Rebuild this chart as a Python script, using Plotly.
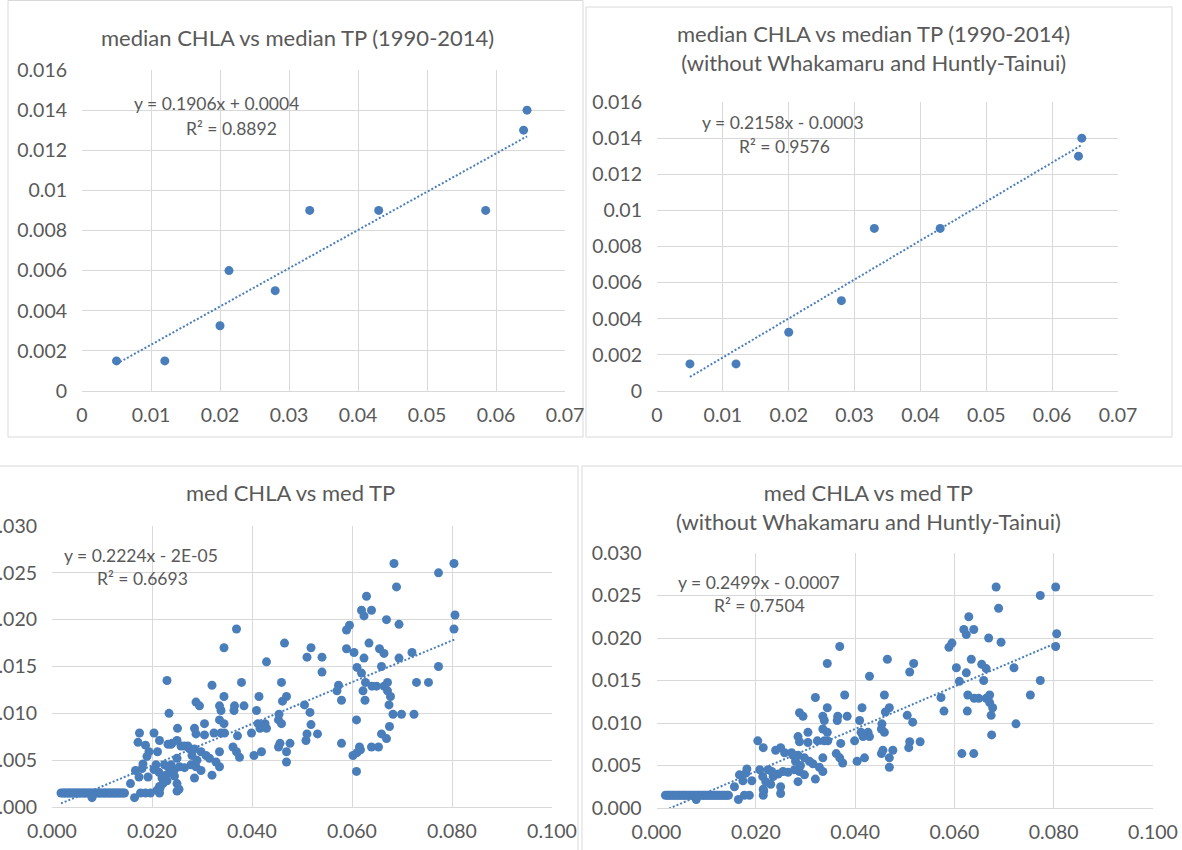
import plotly.graph_objects as go

# ---------------- data ----------------
# site medians (1990-2014)
site_tp = [0.005, 0.012, 0.020, 0.0213, 0.028, 0.033, 0.043, 0.0585, 0.064, 0.0645]
site_chla = [0.0015, 0.0015, 0.00325, 0.006, 0.005, 0.009, 0.009, 0.009, 0.013, 0.014]
site_excluded = [False, False, False, True, False, False, False, True, False, False]

# annual medians, sites kept in the "without" charts
kept_tp = [0.0018, 0.0022, 0.0025, 0.0028, 0.0032, 0.0035, 0.0038, 0.0042, 0.0045, 0.0048,
           0.0052, 0.0055, 0.0058, 0.0062, 0.0065, 0.0068, 0.0072, 0.0075, 0.0078, 0.0082,
           0.0085, 0.0088, 0.0092, 0.0095, 0.0098, 0.0102, 0.0105, 0.0108, 0.0112, 0.0115,
           0.0118, 0.0122, 0.0125, 0.0128, 0.0132, 0.0135, 0.0138, 0.0142, 0.0145,
           0.008, 0.0165, 0.0177, 0.0187, 0.0215, 0.0216,
           0.0157, 0.0167, 0.0180, 0.0174, 0.0192, 0.0182,
           0.0204, 0.0215, 0.0240, 0.0250, 0.0258,
           0.0214, 0.0220, 0.0235, 0.0230, 0.0215, 0.0208, 0.0225, 0.0232,
           0.0250, 0.0250, 0.0245, 0.0255, 0.0265, 0.0278, 0.0288, 0.0298, 0.0285,
           0.0275, 0.0285, 0.0298, 0.0308, 0.0315, 0.0285, 0.0288, 0.0272, 0.0280, 0.0290,
           0.0320, 0.0379, 0.0459, 0.0288, 0.0295, 0.0344, 0.0335, 0.0338, 0.0365, 0.0364,
           0.0384, 0.0414, 0.0409, 0.0461, 0.0469, 0.0454, 0.0335, 0.0344, 0.0305, 0.0305,
           0.0324, 0.0338, 0.0345, 0.0371, 0.0399, 0.0412, 0.0426, 0.0429, 0.0416, 0.0453,
           0.0459, 0.0335, 0.0362, 0.0369, 0.0375, 0.0404, 0.0419, 0.0453, 0.0456, 0.0469,
           0.0469, 0.0476, 0.0328, 0.0335, 0.0320,
           0.0369, 0.0344, 0.0465, 0.0429, 0.0510, 0.0518, 0.0684, 0.0804, 0.0773, 0.0689,
           0.0629, 0.0619, 0.0624, 0.0639, 0.0669, 0.0694, 0.0595, 0.0589, 0.0806, 0.0804,
           0.0604, 0.0624, 0.0634, 0.0655, 0.0664, 0.0720, 0.0659, 0.0610, 0.0773,
           0.0505, 0.0516, 0.0510, 0.0531, 0.0508, 0.0573, 0.0579, 0.0627, 0.0626, 0.0640,
           0.0649, 0.0664, 0.0671, 0.0671, 0.0677, 0.0753, 0.0674, 0.0724, 0.0675, 0.0615,
           0.0639]
kept_chla = [0.0015] * 39 + [
           0.0010, 0.0010, 0.0015, 0.0015, 0.0015, 0.0020,
           0.0025, 0.0039, 0.0041, 0.0032, 0.0032, 0.0046,
           0.0079, 0.0071, 0.0068, 0.0071, 0.0065,
           0.0037, 0.0031, 0.0037, 0.0028, 0.0022, 0.0045, 0.0045, 0.0043,
           0.0025, 0.0017, 0.0040, 0.0043, 0.0042, 0.0045, 0.0043, 0.0039, 0.0031,
           0.0062, 0.0062, 0.0059, 0.0055, 0.0052, 0.0084, 0.0078, 0.0065, 0.0055, 0.0050,
           0.0130, 0.0133, 0.0133, 0.0112, 0.0108, 0.0118, 0.0108, 0.0103, 0.0108, 0.0103,
           0.0108, 0.0118, 0.0103, 0.0113, 0.0118, 0.0099, 0.0093, 0.0089, 0.0089, 0.0077,
           0.0079, 0.0079, 0.0079, 0.0076, 0.0079, 0.0089, 0.0089, 0.0084, 0.0084, 0.0093,
           0.0089, 0.0059, 0.0064, 0.0059, 0.0053, 0.0055, 0.0059, 0.0064, 0.0068, 0.0059,
           0.0048, 0.0068, 0.0048, 0.0043, 0.0034,
           0.0190, 0.0170, 0.0175, 0.0155, 0.0160, 0.0170, 0.0260, 0.0260, 0.0250, 0.0235,
           0.0225, 0.0210, 0.0204, 0.0210, 0.0200, 0.0195, 0.0194, 0.0189, 0.0205, 0.0190,
           0.0165, 0.0159, 0.0175, 0.0169, 0.0164, 0.0165, 0.0150, 0.0149, 0.0150,
           0.0109, 0.0101, 0.0078, 0.0078, 0.0071, 0.0130, 0.0114, 0.0133, 0.0114, 0.0129,
           0.0129, 0.0129, 0.0133, 0.0124, 0.0118, 0.0133, 0.0109, 0.0099, 0.0086, 0.0064,
           0.0064]

# annual medians of Whakamaru and Huntly-Tainui (only in the "all sites" chart)
excl_tp = [0.0175, 0.0172, 0.0187, 0.0194, 0.0190, 0.0211, 0.0232, 0.0251, 0.0234, 0.0230,
           0.0250, 0.0204, 0.0222, 0.0228, 0.0265, 0.0238, 0.0210, 0.0245, 0.0254, 0.0197,
           0.0238,
           0.0518, 0.0570, 0.0729, 0.0682, 0.0699, 0.0609, 0.0659, 0.0669, 0.0579, 0.0617,
           0.0610, 0.0602, 0.0653, 0.0609, 0.0540, 0.0540, 0.0694, 0.0589, 0.0619, 0.0622]
excl_chla = [0.0079, 0.0069, 0.0066, 0.0059, 0.0054, 0.0059, 0.0067, 0.0084, 0.0100, 0.0135,
             0.0052, 0.0040, 0.0025, 0.0034, 0.0065, 0.0045, 0.0018, 0.0033, 0.0019, 0.0015,
             0.0067,
             0.0088, 0.0124, 0.0133, 0.0099, 0.0099, 0.0093, 0.0078, 0.0073, 0.0068, 0.0061,
             0.0058, 0.0055, 0.0064, 0.0038, 0.0160, 0.0144, 0.0159, 0.0169, 0.0143, 0.0124]

# Excel linear trendlines: slope, intercept, labels
trend_slope = [0.1906, 0.2158, 0.2224, 0.2499]
trend_intercept = [0.0004, -0.0003, -0.00002, -0.0007]
trend_eq = ["y = 0.1906x + 0.0004", "y = 0.2158x - 0.0003", "y = 0.2224x - 2E-05", "y = 0.2499x - 0.0007"]
trend_r2 = ["R² = 0.8892", "R² = 0.9576", "R² = 0.6693", "R² = 0.7504"]

titles = ["median CHLA vs median TP (1990-2014)",
          "median CHLA vs median TP (1990-2014)<br>(without Whakamaru and Huntly-Tainui)",
          "med CHLA vs med TP",
          "med CHLA vs med TP<br>(without Whakamaru and Huntly-Tainui)"]

top_x_ticks = [0, 0.01, 0.02, 0.03, 0.04, 0.05, 0.06, 0.07]
top_x_text = ["0", "0.01", "0.02", "0.03", "0.04", "0.05", "0.06", "0.07"]
top_y_ticks = [0, 0.002, 0.004, 0.006, 0.008, 0.01, 0.012, 0.014, 0.016]
top_y_text = ["0", "0.002", "0.004", "0.006", "0.008", "0.01", "0.012", "0.014", "0.016"]
bot_x_ticks = [0, 0.02, 0.04, 0.06, 0.08, 0.1]
bot_x_text = ["0.000", "0.020", "0.040", "0.060", "0.080", "0.100"]
bot_y_ticks = [0, 0.005, 0.01, 0.015, 0.02, 0.025, 0.03]
bot_y_text = ["0.000", "0.005", "0.010", "0.015", "0.020", "0.025", "0.030"]

# ---------------- layout helpers ----------------
W, H = 1182, 850
FONT = "Lato"
TXT = "#595959"
GRID = "#D9D9D9"
BLUE = "#4A7EBB"
TICK_SIZE = 19.5
TITLE_SIZE = 22
EQ_SIZE = 17.5


def fx(px):
    return px / W


def fy(py):
    return 1 - py / H


panels = [
    dict(plot=(82, 565, 70, 391), xr=[0, 0.07], yr=[0, 0.016],
         xt=(top_x_ticks, top_x_text), yt=(top_y_ticks, top_y_text),
         border=(8, 583, 0.5, 437), title=(297, 38), eq=(216, 104), r2=(232, 128)),
    dict(plot=(657, 1118, 102, 391), xr=[0, 0.07], yr=[0, 0.016],
         xt=(top_x_ticks, top_x_text), yt=(top_y_ticks, top_y_text),
         border=(586, 1172, 7, 437), title=(873, 48), eq=(783, 122), r2=(784, 146)),
    dict(plot=(52, 552, 526, 807), xr=[0, 0.1], yr=[0, 0.03],
         xt=(bot_x_ticks, bot_x_text), yt=(bot_y_ticks, bot_y_text),
         border=(-10, 578, 466, 870), title=(290, 493), eq=(141, 555), r2=(142, 578)),
    dict(plot=(656.5, 1153, 553, 808), xr=[0, 0.1], yr=[0, 0.03],
         xt=(bot_x_ticks, bot_x_text), yt=(bot_y_ticks, bot_y_text),
         border=(582, 1200, 466, 870), title=(868, 507), eq=(759, 582), r2=(759, 605)),
]

top_all_x = site_tp
top_all_y = site_chla
top_sub_x = [t for t, e in zip(site_tp, site_excluded) if not e]
top_sub_y = [c for c, e in zip(site_chla, site_excluded) if not e]
bot_all_x = kept_tp + excl_tp
bot_all_y = kept_chla + excl_chla
point_sets = [(top_all_x, top_all_y), (top_sub_x, top_sub_y), (bot_all_x, bot_all_y), (kept_tp, kept_chla)]

fig = go.Figure()
layout = dict(
    template="none",
    width=W, height=H, margin=dict(l=0, r=0, t=0, b=0, autoexpand=False),
    paper_bgcolor="white", plot_bgcolor="white", showlegend=False,
    font=dict(family=FONT, color=TXT),
)
shapes = []
annotations = []

for i, (p, (xs, ys)) in enumerate(zip(panels, point_sets)):
    n = "" if i == 0 else str(i + 1)
    xa, ya = "x" + n, "y" + n
    l, r, t, b = p["plot"]
    layout["xaxis" + n] = dict(
        domain=[fx(l), fx(r)], range=p["xr"], anchor=ya, automargin=False,
        tickvals=p["xt"][0], ticktext=p["xt"][1],
        tickfont=dict(size=TICK_SIZE, color=TXT, family=FONT),
        showgrid=True, gridcolor=GRID, gridwidth=1, zeroline=False,
        showline=True, linecolor=GRID, linewidth=1, ticks="", ticklabelstandoff=7,
    )
    layout["yaxis" + n] = dict(
        domain=[fy(b), fy(t)], range=p["yr"], anchor=xa, automargin=False,
        tickvals=p["yt"][0], ticktext=p["yt"][1],
        tickfont=dict(size=TICK_SIZE, color=TXT, family=FONT),
        showgrid=True, gridcolor=GRID, gridwidth=1, zeroline=False,
        showline=False, ticks="", ticklabelstandoff=14,
    )
    fig.add_trace(go.Scatter(
        x=xs, y=ys, mode="markers", xaxis=xa, yaxis=ya,
        marker=dict(color=BLUE, size=9, line=dict(width=0)),
    ))
    x0, x1 = min(xs), max(xs)
    fig.add_trace(go.Scatter(
        x=[x0, x1], y=[trend_slope[i] * x0 + trend_intercept[i], trend_slope[i] * x1 + trend_intercept[i]],
        mode="lines", xaxis=xa, yaxis=ya,
        line=dict(color=BLUE, width=2, dash="2px,2px"),
    ))
    bl, br, bt, bb = p["border"]
    shapes.append(dict(type="rect", xref="paper", yref="paper",
                       x0=fx(bl), x1=fx(br), y0=fy(bb), y1=fy(bt),
                       line=dict(color=GRID, width=1), fillcolor="rgba(0,0,0,0)", layer="below"))
    annotations.append(dict(text=titles[i], xref="paper", yref="paper",
                            x=fx(p["title"][0]), y=fy(p["title"][1]),
                            xanchor="center", yanchor="middle", showarrow=False,
                            font=dict(size=TITLE_SIZE, color=TXT, family=FONT)))
    annotations.append(dict(text=trend_eq[i], xref="paper", yref="paper",
                            x=fx(p["eq"][0]), y=fy(p["eq"][1]),
                            xanchor="center", yanchor="middle", showarrow=False,
                            font=dict(size=EQ_SIZE, color=TXT, family=FONT)))
    annotations.append(dict(text=trend_r2[i], xref="paper", yref="paper",
                            x=fx(p["r2"][0]), y=fy(p["r2"][1]),
                            xanchor="center", yanchor="middle", showarrow=False,
                            font=dict(size=EQ_SIZE, color=TXT, family=FONT)))

layout["shapes"] = shapes
layout["annotations"] = annotations
fig.update_layout(**layout)
fig.write_html("out.html", config={"displayModeBar": False},
               post_script="document.body.style.margin='0px';document.body.style.overflow='hidden';")
